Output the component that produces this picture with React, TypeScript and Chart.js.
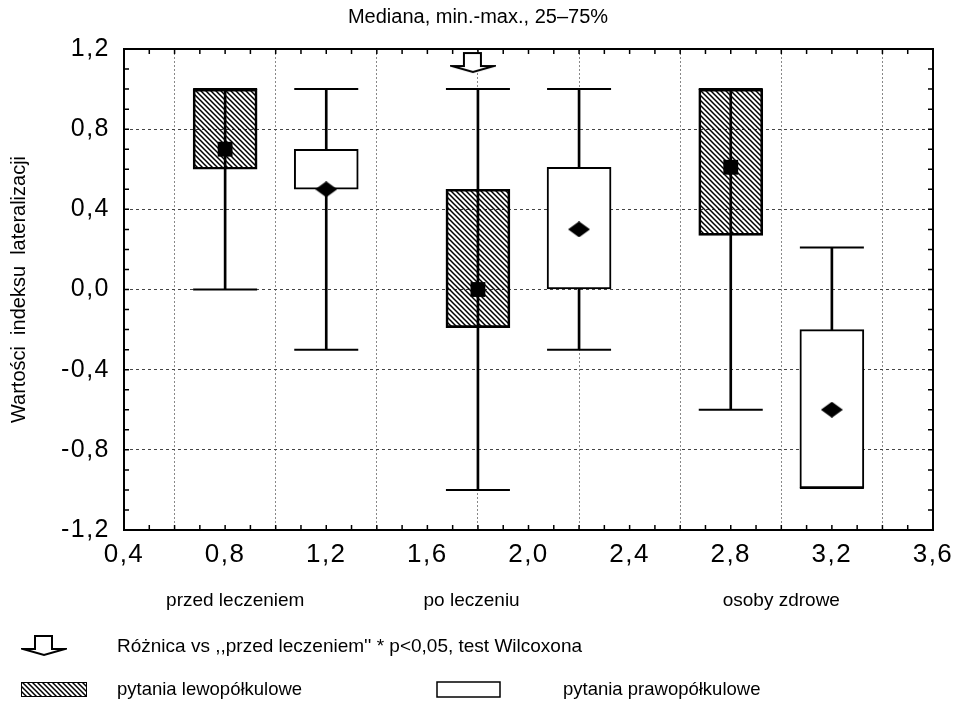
import React, { useEffect, useRef } from 'react';
import { Chart, registerables } from 'chart.js';

Chart.register(...registerables);

// ---- data ----
const groupX = [0.8, 1.2, 1.8, 2.2, 2.8, 3.2];
const questionType = ['left', 'right', 'left', 'right', 'left', 'right'];
const minValues = [0.0, -0.3, -1.0, -0.3, -0.6, -0.99];
const q1Values = [0.6, 0.5, -0.19, 0.0, 0.27, -0.99];
const medianValues = [0.7, 0.5, 0.0, 0.3, 0.61, -0.6];
const q3Values = [1.0, 0.7, 0.5, 0.61, 1.0, -0.2];
const maxValues = [1.0, 1.0, 1.0, 1.0, 1.0, 0.21];

const categoryLabels = ['przed leczeniem', 'po leczeniu', 'osoby zdrowe'];
const categoryLabelX = [0.84, 1.775, 3.0];

const significanceX = [1.78];
const significanceY = [1.13];

const titleText = 'Mediana, min.-max., 25–75%';
const yAxisTitle = 'Wartości  indeksu  lateralizacji';
const legendArrowText = "Różnica vs ,,przed leczeniem'' * p<0,05, test Wilcoxona";
const legendLeftText = 'pytania lewopółkulowe';
const legendRightText = 'pytania prawopółkulowe';

const FONT = '"Liberation Sans", Arial, Helvetica, sans-serif';

function fmt(v: number | string) {
  const n = Number(v);
  if (Math.abs(n) < 1e-9) return '0,0';
  return n.toFixed(1).replace('.', ',');
}

function makeHatch(ctxRef: CanvasRenderingContext2D) {
  const c = document.createElement('canvas');
  c.width = 5;
  c.height = 5;
  const p = c.getContext('2d')!;
  p.strokeStyle = '#000';
  p.lineWidth = 1.5;
  p.beginPath();
  p.moveTo(-1, -1);
  p.lineTo(6, 6);
  p.moveTo(-1, 4);
  p.lineTo(1, 6);
  p.moveTo(4, -1);
  p.lineTo(6, 1);
  p.stroke();
  return ctxRef.createPattern(c, 'repeat')!;
}

function makeArrow() {
  const c = document.createElement('canvas');
  c.width = 46;
  c.height = 24;
  const p = c.getContext('2d')!;
  p.lineWidth = 2;
  p.lineJoin = 'miter';
  p.strokeStyle = '#000';
  p.fillStyle = '#fff';
  p.beginPath();
  p.moveTo(14, 2);
  p.lineTo(31, 2);
  p.lineTo(31, 15);
  p.lineTo(44, 15);
  p.lineTo(23, 21);
  p.lineTo(2, 15);
  p.lineTo(14, 15);
  p.closePath();
  p.fill();
  p.stroke();
  return c;
}

function makeDiamond() {
  const c = document.createElement('canvas');
  c.width = 22;
  c.height = 16;
  const p = c.getContext('2d')!;
  p.fillStyle = '#000';
  p.beginPath();
  p.moveTo(0, 8);
  p.lineTo(11, 0);
  p.lineTo(22, 8);
  p.lineTo(11, 16);
  p.closePath();
  p.fill();
  return c;
}

export default function App() {
  const ref = useRef<HTMLCanvasElement>(null);

  useEffect(() => {
    const canvas = ref.current!;
    const ctx2d = canvas.getContext('2d')!;
    const hatch = makeHatch(ctx2d);
    const arrowImg = makeArrow();
    const diamondImg = makeDiamond();
    const idx = groupX.map((_, i) => i);
    const isLeft = (i: number) => questionType[i] === 'left';

    const decorPlugin = {
      id: 'decor',
      beforeDraw(chart: any) {
        chart.ctx.letterSpacing = '1.5px';
      },
      beforeDatasetsDraw(chart: any) {
        const ctx = chart.ctx as CanvasRenderingContext2D;
        (ctx as any).letterSpacing = '0px';
        const { left, right, top, bottom } = chart.chartArea;
        const xs = chart.scales.x;
        const ys = chart.scales.y;
        ctx.save();
        ctx.strokeStyle = '#000';
        ctx.lineWidth = 1.5;
        ctx.beginPath();
        for (let i = 0; i <= 32; i++) {
          const px = xs.getPixelForValue(0.4 + i * 0.1);
          ctx.moveTo(px, bottom);
          ctx.lineTo(px, bottom - 5);
          ctx.moveTo(px, top);
          ctx.lineTo(px, top + 5);
        }
        for (let i = 0; i <= 24; i++) {
          const py = ys.getPixelForValue(-1.2 + i * 0.1);
          ctx.moveTo(left, py);
          ctx.lineTo(left + 5, py);
          ctx.moveTo(right, py);
          ctx.lineTo(right - 5, py);
        }
        ctx.stroke();
        ctx.lineWidth = 2;
        ctx.strokeRect(left, top, right - left, bottom - top);
        ctx.restore();
      },
      afterDraw(chart: any) {
        const ctx = chart.ctx as CanvasRenderingContext2D;
        (ctx as any).letterSpacing = '0px';
        const xs = chart.scales.x;
        const { top, bottom } = chart.chartArea;
        ctx.save();
        ctx.fillStyle = '#000';
        ctx.textBaseline = 'middle';

        // title
        ctx.font = `20px ${FONT}`;
        ctx.textAlign = 'center';
        ctx.fillText(titleText, 478, 17);

        // y axis title
        ctx.save();
        ctx.font = `20px ${FONT}`;
        ctx.translate(19, (top + bottom) / 2);
        ctx.rotate(-Math.PI / 2);
        ctx.fillText(yAxisTitle, 0, 0);
        ctx.restore();

        // category labels
        ctx.font = `19px ${FONT}`;
        categoryLabels.forEach((lab, i) => {
          ctx.fillText(lab, xs.getPixelForValue(categoryLabelX[i]), 601);
        });

        // legend
        ctx.textAlign = 'left';
        ctx.drawImage(arrowImg, 21, 634);
        ctx.font = `19px ${FONT}`;
        ctx.fillText(legendArrowText, 117, 647);

        ctx.font = `18.5px ${FONT}`;
        ctx.fillStyle = hatch;
        ctx.fillRect(21, 682, 66, 15);
        ctx.strokeStyle = '#000';
        ctx.lineWidth = 1;
        ctx.strokeRect(21.5, 682.5, 65, 14);
        ctx.fillStyle = '#000';
        ctx.fillText(legendLeftText, 117, 690);

        ctx.lineWidth = 1.5;
        ctx.strokeRect(437, 682, 63, 15);
        ctx.fillText(legendRightText, 563, 690);
        ctx.restore();
      },
    };

    const chart = new Chart(canvas, {
      data: {
        datasets: [
          {
            type: 'bar',
            label: 'whisker',
            data: idx.map((i) => ({ x: groupX[i], y: [minValues[i], maxValues[i]] })),
            backgroundColor: '#000',
            borderWidth: 0,
            barThickness: 2,
            grouped: false,
            order: 5,
          },
          {
            type: 'bar',
            label: 'box',
            data: idx.map((i) => ({ x: groupX[i], y: [q1Values[i], q3Values[i]] })),
            backgroundColor: idx.map((i) => (isLeft(i) ? hatch : '#fff')),
            borderColor: '#000',
            borderWidth: 2,
            borderSkipped: false,
            barThickness: 64,
            grouped: false,
            order: 4,
          },
          {
            type: 'scatter',
            label: 'caps',
            data: idx.flatMap((i) => [
              { x: groupX[i], y: minValues[i] },
              { x: groupX[i], y: maxValues[i] },
            ]),
            pointStyle: 'line',
            pointRadius: 32,
            pointBorderColor: '#000',
            pointBorderWidth: 2,
            showLine: false,
            order: 3,
          },
          {
            type: 'scatter',
            label: 'median left',
            data: idx.filter(isLeft).map((i) => ({ x: groupX[i], y: medianValues[i] })),
            pointStyle: 'rect',
            pointRadius: 10.5,
            pointBackgroundColor: '#000',
            pointBorderColor: '#000',
            pointBorderWidth: 0,
            showLine: false,
            order: 2,
          },
          {
            type: 'scatter',
            label: 'median right',
            data: idx.filter((i) => !isLeft(i)).map((i) => ({ x: groupX[i], y: medianValues[i] })),
            pointStyle: diamondImg as any,
            showLine: false,
            order: 2,
          },
          {
            type: 'scatter',
            label: 'significance',
            data: significanceX.map((x, i) => ({ x, y: significanceY[i] })),
            pointStyle: arrowImg as any,
            showLine: false,
            order: 1,
          },
        ] as any,
      },
      options: {
        responsive: true,
        maintainAspectRatio: false,
        animation: false,
        events: [],
        layout: { padding: { top: 49, right: 29, left: 0, bottom: 0 } },
        plugins: {
          legend: { display: false },
          tooltip: { enabled: false },
          title: { display: false },
        },
        scales: {
          x: {
            type: 'linear',
            min: 0.4,
            max: 3.6,
            offset: false,
            ticks: {
              stepSize: 0.4,
              callback: (v: any) => fmt(v),
              font: { family: FONT, size: 26 },
              color: '#000',
              padding: 9,
              maxRotation: 0,
              autoSkip: false,
            },
            grid: { color: '#888', lineWidth: 1, drawTicks: false },
            border: { display: false, dash: [2, 2] },
            afterFit: (s: any) => {
              s.height = 173;
            },
          },
          y: {
            type: 'linear',
            min: -1.2,
            max: 1.2,
            ticks: {
              stepSize: 0.4,
              callback: (v: any) => fmt(v),
              font: { family: FONT, size: 25 },
              color: '#000',
              padding: 14,
            },
            grid: { color: '#444', lineWidth: 1, drawTicks: false },
            border: { display: false, dash: [3, 3] },
            afterFit: (s: any) => {
              s.width = 124;
            },
          },
        },
      } as any,
      plugins: [decorPlugin],
    });

    return () => chart.destroy();
  }, []);

  return (
    <div style={{ position: 'fixed', left: 0, top: 0, width: 967, height: 703, background: '#fff' }}>
      <canvas ref={ref} />
    </div>
  );
}
